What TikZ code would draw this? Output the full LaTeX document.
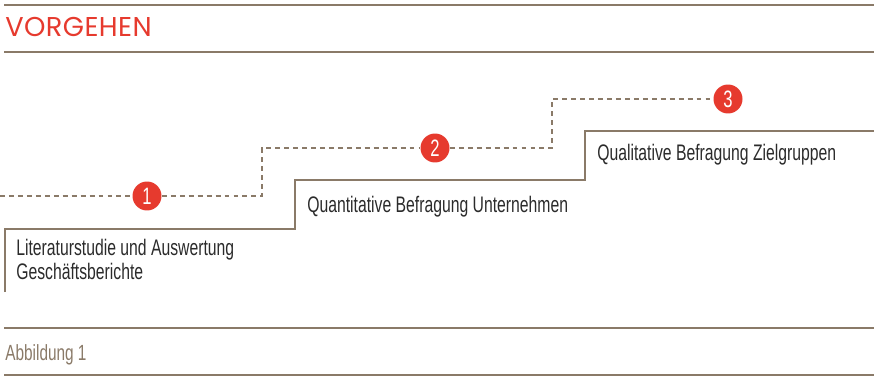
\documentclass[tikz,border=0pt]{standalone}
\usepackage{fontspec}
\usepackage{tikz}
\setmainfont{Liberation Sans}
\newfontfamily\narrowfont[FakeStretch=0.7]{Liberation Sans}
\newfontfamily\headfont[LetterSpace=1.5]{Poppins}
\definecolor{vgred}{HTML}{E63A2E}
\definecolor{vgbrown}{HTML}{8A7A68}
\definecolor{vgtext}{HTML}{2B2B2B}

\begin{document}
\begin{tikzpicture}[x=0.02cm, y=-0.02cm,
    rule/.style={draw=vgbrown, line width=1.1pt},
    stairline/.style={draw=vgbrown, line width=0.9pt},
    pathline/.style={draw=vgbrown, line width=0.7pt, dash pattern=on 2.8pt off 2.3pt},
    badge/.style={circle, fill=vgred, text=white, minimum size=16.5pt, inner sep=0pt,
      font=\narrowfont\fontsize{13.5}{13.5}\selectfont},
    steptext/.style={inner sep=0pt, text=vgtext, align=left,
      font=\narrowfont\fontsize{12.8}{13.2}\selectfont}]
      \useasboundingbox (0, 0) rectangle (874, 378);
      % rules and captions
      \draw[rule] (4, 5) -- (874, 5);
      \draw[rule] (4, 52) -- (874, 52);
      \draw[rule] (4, 328) -- (874, 328);
      \draw[rule] (4, 375) -- (874, 375);
      \node[anchor=base west, inner sep=0pt, text=vgred, font=\headfont\fontsize{15.5}{16}\selectfont] (title) at (5, 37) {VORGEHEN};
      \node[anchor=base west, inner sep=0pt, text=vgbrown, font=\narrowfont\fontsize{12.5}{13}\selectfont] (caption) at (5, 360) {Abbildung 1};
      % stairs
      \draw[stairline] (5, 292) -- (5, 229) -- (295, 229) -- (295, 180) -- (585, 180) -- (585, 131) -- (874, 131);
      \node[steptext, anchor=base west] (phase1) at (16, 279) {Literaturstudie und Auswertung\\Geschäftsberichte};
      \node[steptext, anchor=base west] (phase2) at (307, 212) {Quantitative Befragung Unternehmen};
      \node[steptext, anchor=base west] (phase3) at (597, 160) {Qualitative Befragung Zielgruppen};
      % numbered markers
      \node[badge] (s1) at (147, 196) {1};
      \node[badge] (s2) at (435, 148) {2};
      \node[badge] (s3) at (728, 99) {3};
      \coordinate (start) at (0, 196);
      \coordinate (up1) at (262, 196);
      \coordinate (up2) at (552, 148);
      \draw[pathline] (start) -- (s1);
      \draw[pathline] (s1) -- (up1) |- (s2);
      \draw[pathline] (s2) -- (up2) |- (s3);
\end{tikzpicture}
\end{document}
